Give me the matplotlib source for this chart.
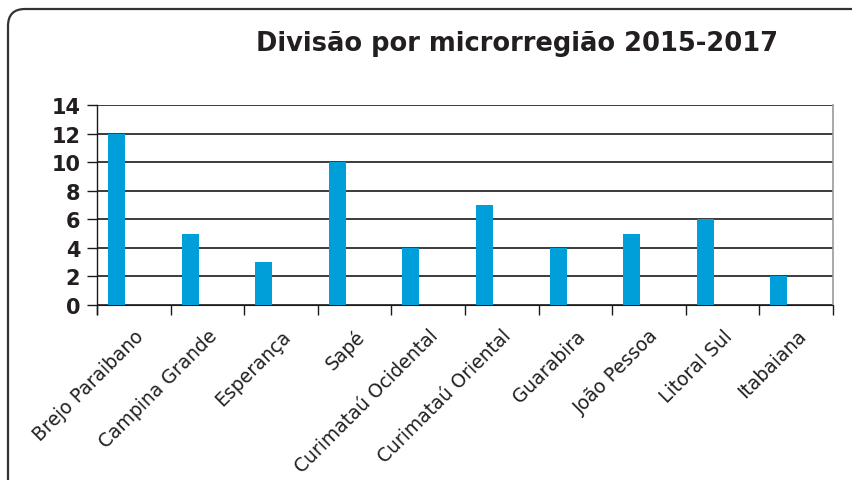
import matplotlib
matplotlib.use("Agg")
import matplotlib.pyplot as plt
from matplotlib.patches import FancyBboxPatch
import numpy as np

categories = ["Brejo Paraibano", "Campina Grande", "Esperança", "Sapé",
              "Curimataú Ocidental", "Curimataú Oriental", "Guarabira",
              "João Pessoa", "Litoral Sul", "Itabaiana"]
values = [12, 5, 3, 10, 4, 7, 4, 5, 6, 2]
yticks = [0, 2, 4, 6, 8, 10, 12, 14]
title = "Divisão por microrregião 2015-2017"

txt = "#231f20"
bar_color = "#009fda"

fig = plt.figure(figsize=(8.53, 4.81), dpi=100)
fig.patch.set_facecolor("white")

# rounded frame (extends past right and bottom edges)
frame = FancyBboxPatch((8 / 853, -0.2), 1.1, 1.2 - 10 / 481,
                       boxstyle="round,pad=0,rounding_size=0.02",
                       transform=fig.transFigure, fill=False,
                       edgecolor="#333333", linewidth=1.6, clip_on=False,
                       mutation_aspect=853 / 481)
fig.patches.append(frame)

ax = fig.add_axes([97 / 853, 1 - 306 / 481, (833 - 97) / 853, 200 / 481])
x = np.arange(len(categories))
ax.bar(x - 0.235, values, width=0.23, color=bar_color, zorder=3)
ax.set_xlim(-0.5, len(categories) - 0.5)
ax.set_ylim(0, 14)

ax.set_yticks(yticks)
ax.set_yticklabels([str(v) for v in yticks], fontsize=15, color=txt,
                   fontweight="semibold")
for v in yticks:
    ax.axhline(v, color="#1a1a1a", lw=1.2, zorder=2)
ax.tick_params(axis="y", length=7, width=1.0, color="#1a1a1a", pad=5)

ax.set_xticks(np.arange(-0.5, len(categories) + 0.5, 1.0))
ax.set_xticklabels([])
ax.tick_params(axis="x", which="major", length=7, width=1.0, color="#1a1a1a")
ax.set_xticks(x, minor=True)
ax.set_xticklabels(categories, minor=True, rotation=45, ha="right",
                   rotation_mode="anchor", fontsize=13.5, color=txt,
                   fontweight="medium")
ax.tick_params(axis="x", which="minor", length=0, pad=15)

ax.spines["top"].set_visible(False)
ax.spines["left"].set_color("#1a1a1a")
ax.spines["left"].set_linewidth(1.0)
ax.spines["left"].set_bounds(-0.6, 14)
ax.spines["bottom"].set_color("#1a1a1a")
ax.spines["right"].set_color("#999999")
ax.spines["right"].set_linewidth(1.2)
ax.spines["left"].set_zorder(4)

fig.text(517 / 853, 1 - 44 / 481, title, ha="center", va="center",
         fontsize=18.5, fontweight="bold", color=txt)

fig.savefig("out.png", dpi=100, facecolor="white")
